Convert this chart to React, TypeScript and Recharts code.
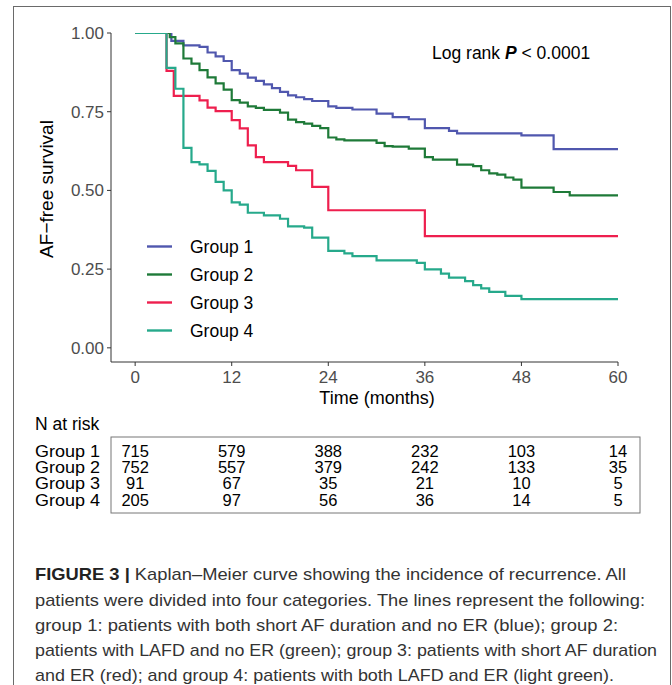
import React from 'react';
import { LineChart, Line, XAxis, YAxis } from 'recharts';

// ---- data ----
const G1_T = [0, 4.5, 6, 8, 9, 10, 11, 12, 13, 14, 15, 16, 17, 18, 19, 20, 21, 22, 24, 25, 27, 30, 32, 34, 36, 39, 40, 48, 52, 60];
const G1_S = [1.0, 0.975, 0.961, 0.956, 0.938, 0.926, 0.911, 0.882, 0.871, 0.858, 0.848, 0.837, 0.825, 0.813, 0.802, 0.796, 0.79, 0.784, 0.767, 0.762, 0.757, 0.744, 0.733, 0.726, 0.698, 0.689, 0.681, 0.675, 0.631, 0.631];

const G2_T = [0, 4.3, 5, 6, 7, 8, 9, 10, 11, 12, 13, 14, 15, 16, 18, 19, 20, 21, 22, 23, 24, 25, 26, 30, 31, 32, 34, 36, 37, 40, 42, 43, 44, 45, 46, 47, 48, 52, 54, 60];
const G2_S = [1.0, 0.987, 0.967, 0.919, 0.903, 0.882, 0.859, 0.84, 0.82, 0.787, 0.779, 0.767, 0.762, 0.756, 0.747, 0.725, 0.717, 0.712, 0.705, 0.698, 0.668, 0.662, 0.659, 0.651, 0.641, 0.639, 0.633, 0.606, 0.598, 0.582, 0.577, 0.564, 0.554, 0.55, 0.541, 0.534, 0.509, 0.495, 0.484, 0.484];

const G3_T = [0, 3.9, 4.8, 8, 9, 10, 12, 13, 14, 15, 16, 19, 20, 22, 24, 36, 60];
const G3_S = [1.0, 0.88, 0.8, 0.786, 0.763, 0.752, 0.723, 0.697, 0.643, 0.606, 0.59, 0.578, 0.564, 0.511, 0.437, 0.355, 0.355];

const G4_T = [0, 3.9, 5, 6, 7, 8, 9, 10, 11, 12, 13, 14, 16, 18, 19, 21, 22, 24, 26, 27, 30, 35, 36, 38, 39, 41, 42, 43, 44, 46, 48, 60];
const G4_S = [1.0, 0.889, 0.823, 0.635, 0.59, 0.583, 0.562, 0.527, 0.5, 0.462, 0.455, 0.429, 0.421, 0.41, 0.386, 0.382, 0.35, 0.308, 0.3, 0.291, 0.278, 0.27, 0.249, 0.236, 0.223, 0.212, 0.199, 0.189, 0.178, 0.165, 0.155, 0.155];

const GROUP_NAMES = ['Group 1', 'Group 2', 'Group 3', 'Group 4'];
const X_TICKS = [0, 12, 24, 36, 48, 60];
const Y_TICKS = [0, 0.25, 0.5, 0.75, 1.0];

const RISK_G1 = [715, 579, 388, 232, 103, 14];
const RISK_G2 = [752, 557, 379, 242, 133, 35];
const RISK_G3 = [91, 67, 35, 21, 10, 5];
const RISK_G4 = [205, 97, 56, 36, 14, 5];

const CAPTION_LINES = [
  'patients were divided into four categories. The lines represent the following:',
  'group 1: patients with both short AF duration and no ER (blue); group 2:',
  'patients with LAFD and no ER (green); group 3: patients with short AF duration',
  'and ER (red); and group 4: patients with both LAFD and ER (light green).',
];

// ---- styling ----
const COLORS = ['#5057AE', '#1E7A38', '#EE1F4E', '#26A98B'];
const FONT = '"Liberation Sans", Arial, Helvetica, sans-serif';
const W = 672;
const H = 685;
const CH = 410;
const MARGIN = { top: 33, right: 54, bottom: 18, left: 0 };
const YAXIS_W = 111;
const XDOM: [number, number] = [-3, 60];

const zip = (t: number[], s: number[]) => t.map((v, i) => ({ t: v, s: s[i] }));
const SERIES = [zip(G1_T, G1_S), zip(G2_T, G2_S), zip(G3_T, G3_S), zip(G4_T, G4_S)];
const RISK = [RISK_G1, RISK_G2, RISK_G3, RISK_G4];

// linear x scale equal to the chart's plot area (for the risk table columns)
const plotLeft = MARGIN.left + YAXIS_W;
const plotRight = W - MARGIN.right;
const xScale = (t: number) => plotLeft + ((t - XDOM[0]) / (XDOM[1] - XDOM[0])) * (plotRight - plotLeft);

export default function App() {
  return (
    <div style={{ position: 'absolute', left: 0, top: 0, width: W, height: H, background: '#fff', overflow: 'hidden', fontFamily: FONT }}>
      <div style={{ position: 'absolute', left: 13, top: 6, width: 658, height: 720, border: '1px solid #6a6a6a', boxSizing: 'border-box' }} />
      <div style={{ position: 'absolute', left: 0, top: 0 }}>
        <LineChart width={W} height={CH} margin={MARGIN}>
          <XAxis
            type="number"
            dataKey="t"
            domain={XDOM}
            ticks={X_TICKS}
            allowDataOverflow
            height={30}
            tickSize={4}
            tickMargin={5}
            stroke="#333"
            tick={{ fill: '#4d4d4d', fontSize: 17, fontFamily: FONT }}
          />
          <YAxis
            type="number"
            dataKey="s"
            domain={[-0.045, 1]}
            ticks={Y_TICKS}
            allowDataOverflow
            width={YAXIS_W}
            tickSize={4}
            tickMargin={3}
            stroke="#333"
            tickFormatter={(v: number) => v.toFixed(2)}
            tick={{ fill: '#4d4d4d', fontSize: 17, fontFamily: FONT }}
          />
          {SERIES.map((d, i) => (
            <Line
              key={GROUP_NAMES[i]}
              data={d}
              dataKey="s"
              type="stepAfter"
              stroke={COLORS[i]}
              strokeWidth={2.2}
              dot={false}
              activeDot={false}
              isAnimationActive={false}
            />
          ))}
        </LineChart>
      </div>
      <svg width={W} height={H} style={{ position: 'absolute', left: 0, top: 0, pointerEvents: 'none' }} fontFamily={FONT}>
        {/* axis titles */}
        <text x={377} y={404} textAnchor="middle" fontSize={18} fill="#000">Time (months)</text>
        <text x={0} y={0} transform="translate(53,189) rotate(-90)" textAnchor="middle" fontSize={19} fill="#000">AF−free survival</text>
        {/* log rank */}
        <text x={432} y={59} fontSize={17.5} fill="#000">
          Log rank <tspan fontWeight="bold" fontStyle="italic">P</tspan> &lt; 0.0001
        </text>
        {/* legend */}
        {GROUP_NAMES.map((g, i) => (
          <g key={g}>
            <line x1={147} x2={172} y1={246.5 + i * 28} y2={246.5 + i * 28} stroke={COLORS[i]} strokeWidth={2.4} />
            <text x={190} y={252.5 + i * 28} fontSize={17.5} fill="#000">{g}</text>
          </g>
        ))}
        {/* risk table */}
        <text x={35} y={430} fontSize={17.5} fill="#000">N at risk</text>
        <rect x={111} y={437} width={529} height={76} fill="none" stroke="#777" strokeWidth={1} />
        {GROUP_NAMES.map((g, i) => (
          <g key={'r' + g}>
            <text x={35} y={456.5 + i * 16.4} fontSize={16} fill="#000" textLength={65} lengthAdjust="spacingAndGlyphs">{g}</text>
            {RISK[i].map((v, j) => (
              <text key={j} x={xScale(X_TICKS[j])} y={456.5 + i * 16.4} textAnchor="middle" fontSize={16.5} fill="#000">{v}</text>
            ))}
          </g>
        ))}
        {/* caption */}
        <text x={35} y={580} fontSize={17} fill="#333" textLength={591} lengthAdjust="spacingAndGlyphs">
          <tspan fontWeight="bold" fill="#222">FIGURE 3 |</tspan> Kaplan–Meier curve showing the incidence of recurrence. All
        </text>
        {CAPTION_LINES.map((l, i) => (
          <text key={i} x={35} y={605.5 + i * 25} fontSize={17} fill="#333" textLength={[610, 583, 622, 579][i]} lengthAdjust="spacingAndGlyphs">{l}</text>
        ))}
      </svg>
    </div>
  );
}
